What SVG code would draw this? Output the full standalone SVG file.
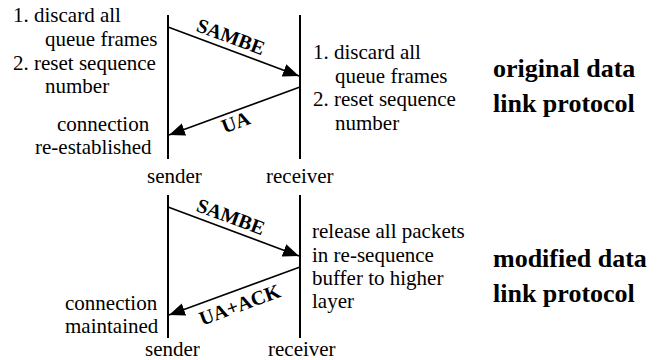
<svg xmlns="http://www.w3.org/2000/svg" width="660" height="360" viewBox="0 0 660 360">
<defs>
<marker id="ah" markerUnits="userSpaceOnUse" markerWidth="17" markerHeight="13" refX="16" refY="6.5" orient="auto">
<path d="M0,0 L16,6.5 L0,13 z" fill="#000"/>
</marker>
</defs>
<rect width="660" height="360" fill="#fff"/>
<g font-family="Liberation Serif" fill="#000">

<g id="top-sender">
<line stroke="#000" stroke-width="2" x1="168" y1="15" x2="168" y2="159"/>
<text font-size="21" x="147" y="183">sender</text>
</g>
<g id="top-receiver">
<line stroke="#000" stroke-width="2" x1="300" y1="15" x2="300" y2="159"/>
<text font-size="21" x="266" y="183">receiver</text>
</g>
<g id="top-sender-note" font-size="21">
<text x="13" y="22">1. discard all</text>
<text x="45" y="46">queue frames</text>
<text x="13" y="70">2. reset sequence</text>
<text x="45" y="93">number</text>
<text x="57" y="131">connection</text>
<text x="35" y="154">re-established</text>
</g>
<g id="top-receiver-note" font-size="21">
<text x="313" y="59">1. discard all</text>
<text x="335" y="83">queue frames</text>
<text x="313" y="106">2. reset sequence</text>
<text x="335" y="130">number</text>
</g>
<g id="top-title" font-size="26" font-weight="bold">
<text x="493" y="77">original data</text>
<text x="493" y="112">link protocol</text>
</g>

<g id="bottom-sender">
<line stroke="#000" stroke-width="2" x1="168" y1="195" x2="168" y2="338"/>
<text font-size="21" x="145" y="356">sender</text>
</g>
<g id="bottom-receiver">
<line stroke="#000" stroke-width="2" x1="300" y1="195" x2="300" y2="338"/>
<text font-size="21" x="268" y="356">receiver</text>
</g>
<g id="bottom-sender-note" font-size="21">
<text x="65" y="310">connection</text>
<text x="65" y="333">maintained</text>
</g>
<g id="bottom-receiver-note" font-size="21">
<text x="312" y="238">release all packets</text>
<text x="312" y="262">in re-sequence</text>
<text x="312" y="285">buffer to higher</text>
<text x="312" y="308">layer</text>
</g>
<g id="bottom-title" font-size="26" font-weight="bold">
<text x="493" y="267">modified data</text>
<text x="493" y="302">link protocol</text>
</g>

<g id="connectors" font-size="20" font-weight="bold" text-anchor="middle">
<g stroke="#000" stroke-width="1.6" fill="none" marker-end="url(#ah)">
<line x1="168" y1="27" x2="299" y2="76"/>
<line x1="300" y1="87" x2="169" y2="135"/>
<line x1="168" y1="207" x2="299" y2="256"/>
<line x1="300" y1="267" x2="169" y2="315"/>
</g>
<text transform="translate(228.5,43) rotate(20.3)">SAMBE</text>
<text transform="translate(238,128.5) rotate(-20.3)">UA</text>
<text transform="translate(228.5,223) rotate(20.3)">SAMBE</text>
<text transform="translate(242,311) rotate(-20.3)">UA+ACK</text>
</g>
</g>
</svg>
